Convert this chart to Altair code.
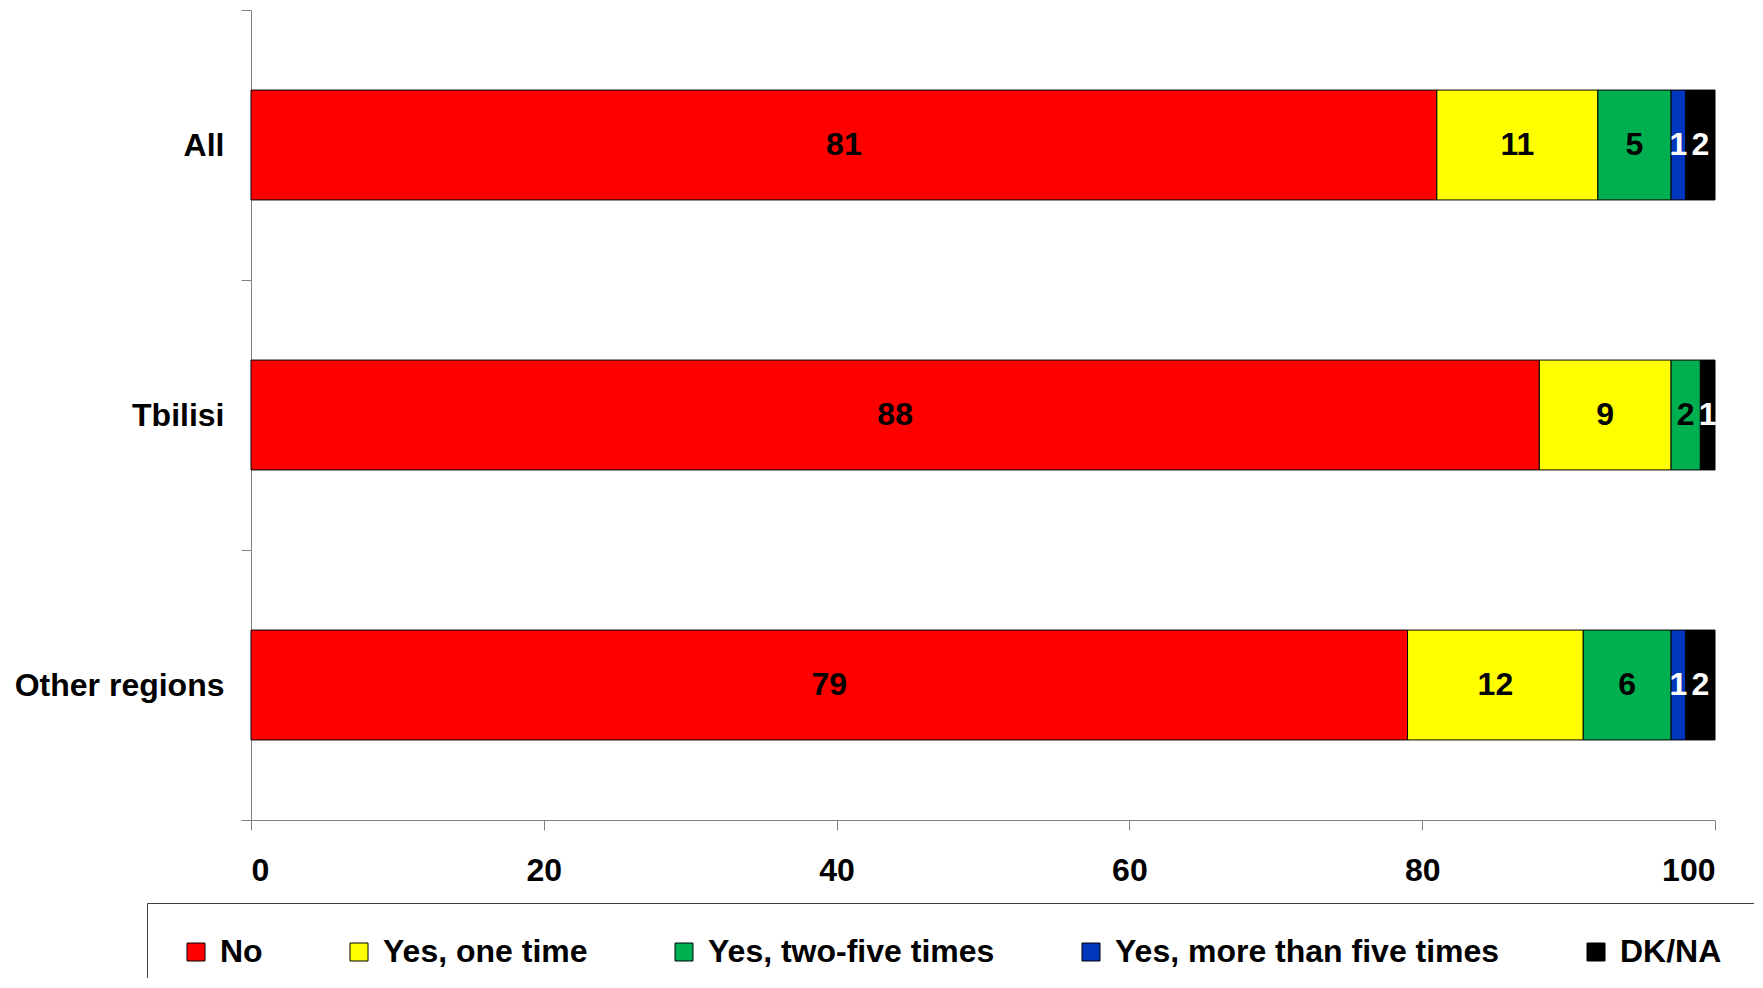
import altair as alt
import pandas as pd

groups = ["All", "Tbilisi", "Other regions"]
answers = ["No", "Yes, one time", "Yes, two-five times", "Yes, more than five times", "DK/NA"]
colors = ["#FF0000", "#FFFF00", "#00B050", "#0036BE", "#000000"]
values_all = [81, 11, 5, 1, 2]
values_tbilisi = [88, 9, 2, 0, 1]
values_other = [79, 12, 6, 1, 2]
x_ticks = [0, 20, 40, 60, 80, 100]

rows = []
for g, vals in zip(groups, [values_all, values_tbilisi, values_other]):
    for i, (a, v) in enumerate(zip(answers, vals)):
        rows.append({"group": g, "answer": a, "order": i, "value": v})
df = pd.DataFrame(rows)

FONT = "Liberation Sans"

base = (
    alt.Chart(df)
    .transform_filter("datum.value > 0")
    .transform_stack(stack="value", groupby=["group"], sort=[alt.SortField("order")], as_=["x0", "x1"])
    .transform_calculate(mid="(datum.x0 + datum.x1) / 2")
)

y_enc = alt.Y(
    "group:N",
    sort=groups,
    scale=alt.Scale(paddingInner=0, paddingOuter=0),
    axis=alt.Axis(
        title=None,
        grid=False,
        labelFontSize=32,
        labelFontWeight="bold",
        labelColor="black",
        labelFont=FONT,
        labelLimit=0,
        tickBand="extent",
        tickSize=10,
        tickColor="#808080",
        domainColor="#808080",
        labelPadding=17,
    ),
)

bars = base.mark_bar(stroke="black", strokeWidth=1, height={"band": 0.407}).encode(
    x=alt.X(
        "x0:Q",
        scale=alt.Scale(domain=[0, 100], nice=False),
        axis=alt.Axis(
            title=None,
            values=x_ticks,
            grid=False,
            labelFontSize=32,
            labelFontWeight="bold",
            labelColor="black",
            labelFont=FONT,
            tickSize=10,
            tickColor="#808080",
            domainColor="#808080",
            labelPadding=25,
        ),
    ),
    x2="x1:Q",
    y=y_enc,
    color=alt.Color(
        "answer:N",
        sort=answers,
        scale=alt.Scale(domain=answers, range=colors),
        legend=alt.Legend(
            title=None,
            orient="none",
            legendX=-104,
            legendY=893,
            direction="horizontal",
            columns=5,
            columnPadding=80,
            symbolType="square",
            symbolSize=324,
            symbolStrokeColor="black",
            symbolStrokeWidth=1,
            labelFontSize=32,
            labelFontWeight="bold",
            labelFont=FONT,
            labelColor="black",
            labelOffset=8,
            labelLimit=0,
            labelExpr="datum.label == 'No' ? 'No\u00a0' : datum.label",
            padding=33,
            strokeColor="#404040",
            fillColor="white",
        ),
    ),
    order=alt.Order("order:Q"),
)

labels = base.mark_text(fontSize=32, fontWeight="bold", font=FONT, baseline="middle", align="center").encode(
    x=alt.X("mid:Q"),
    y=alt.Y("group:N", sort=groups),
    text=alt.Text("value:Q"),
    color=alt.condition(
        "datum.answer == 'DK/NA' || datum.answer == 'Yes, more than five times'",
        alt.value("white"),
        alt.value("black"),
    ),
)

chart = (
    alt.layer(bars, labels)
    .properties(
        width=1464,
        height=810,
        autosize=alt.AutoSizeParams(type="none"),
        padding={"left": 243, "top": 2, "right": 39, "bottom": 158},
    )
    .configure(font=FONT)
    .configure_view(strokeWidth=0, stroke="transparent")
    .configure_axis(grid=False)
)

chart.save("out.html", embed_options={"renderer": "svg", "actions": False})
